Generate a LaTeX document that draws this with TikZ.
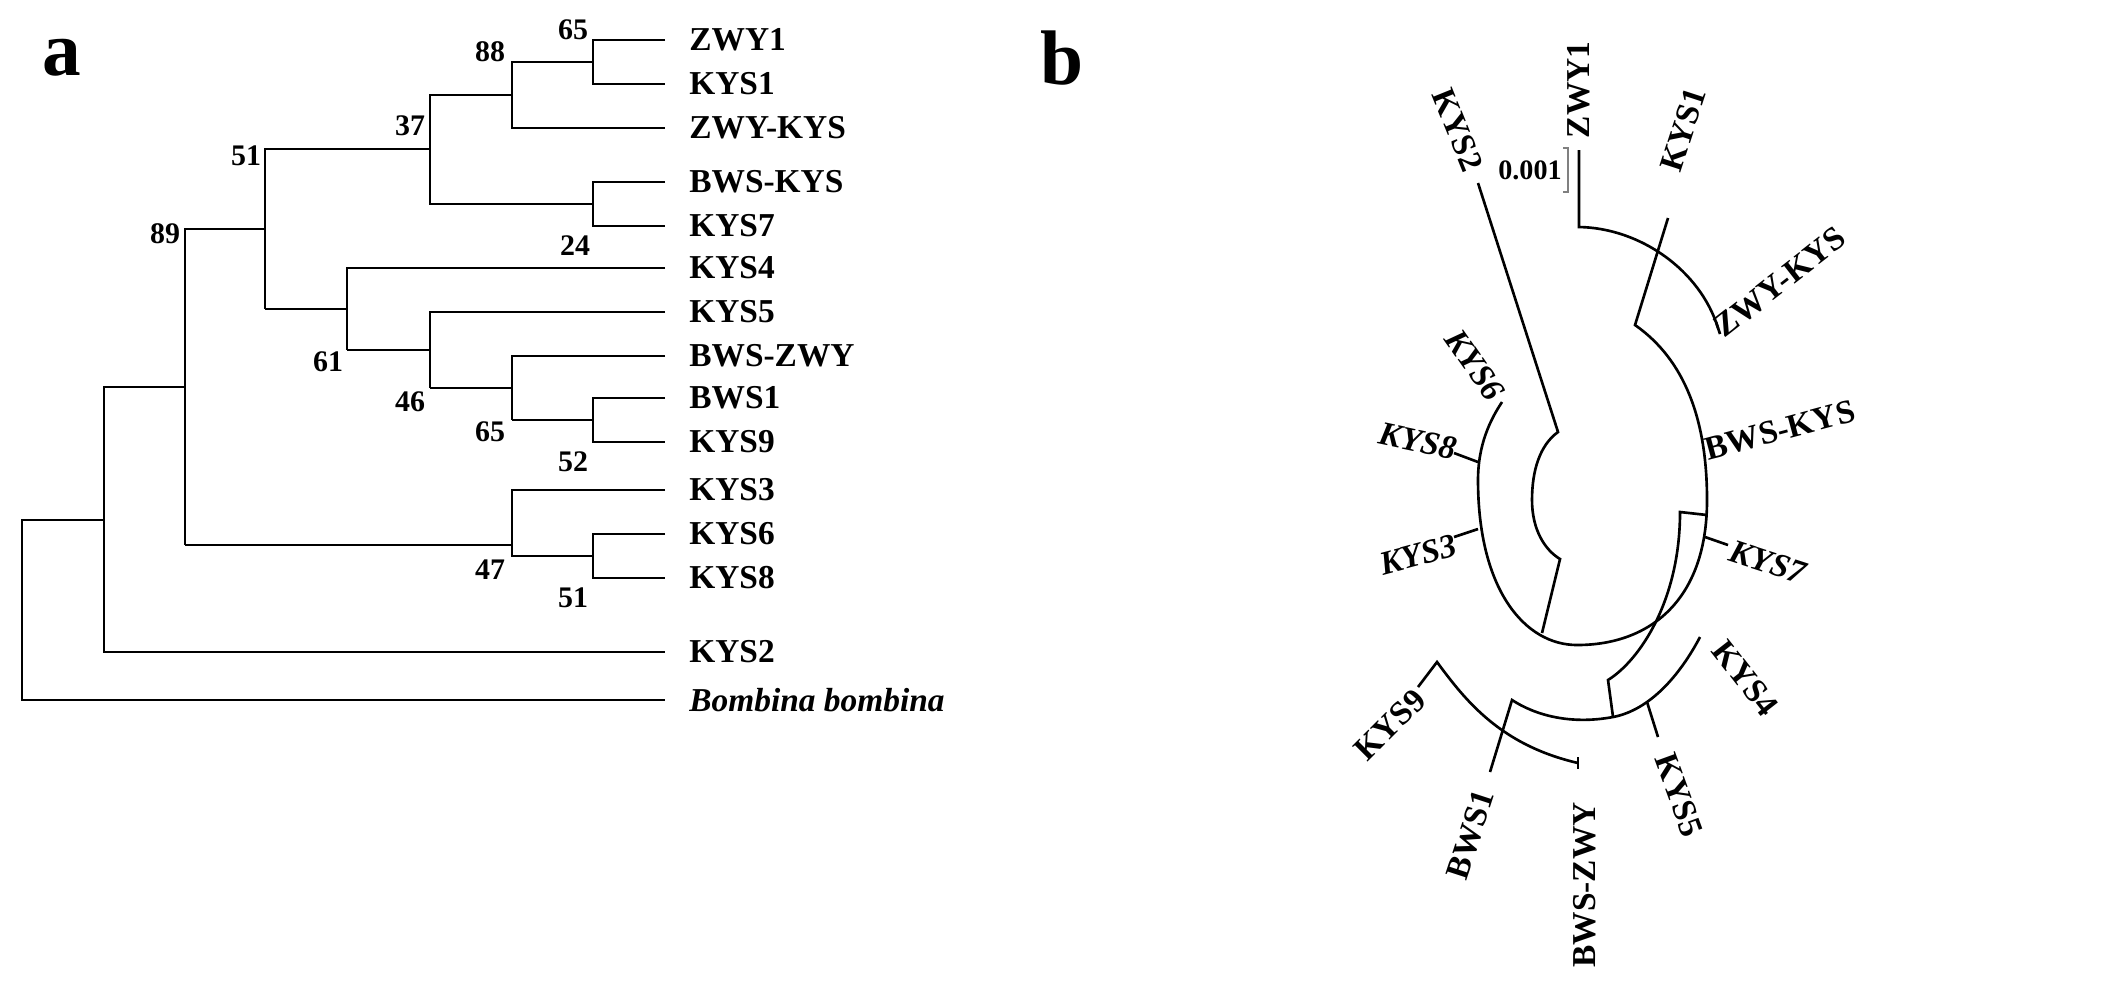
\documentclass[tikz,border=0pt]{standalone}
\usepackage{fontspec}
\setmainfont{Liberation Serif}
\begin{document}
\begin{tikzpicture}[x=0.01cm,y=-0.01cm,line width=0.75pt,
  lab/.style={font=\bfseries\fontsize{9.5}{9.5}\selectfont,anchor=west,inner sep=0},
  bs/.style={font=\bfseries\fontsize{8.5}{8.5}\selectfont,inner sep=0},
  rl/.style={font=\bfseries\fontsize{9.5}{9.5}\selectfont,inner sep=0},
  ri/.style={font=\bfseries\itshape\fontsize{9.5}{9.5}\selectfont,inner sep=0}]
\useasboundingbox (0,0) rectangle (2113,993);
\node[font=\bfseries\fontsize{22}{22}\selectfont] (A) at (62,58) {a};
\node[font=\bfseries\fontsize{22}{22}\selectfont] (B) at (1062,58) {b};
% tree a
\draw (665,40) -| (593,84) -- (665,84);
\draw (593,62) -| (512,128) -- (665,128);
\draw (665,182) -| (593,226) -- (665,226);
\draw (512,95) -| (430,204) -- (593,204);
\draw (430,149) -| (265,309);
\draw (665,268) -| (347,350);
\draw (665,312) -| (430,388);
\draw (665,356) -| (512,420);
\draw (665,398) -| (593,442) -- (665,442);
\draw (593,420) -- (512,420);
\draw (430,388) -- (512,388);
\draw (347,350) -- (430,350);
\draw (265,309) -- (347,309);
\draw (265,229) -| (185,545);
\draw (665,534) -| (593,578) -- (665,578);
\draw (665,490) -| (512,556) -- (593,556);
\draw (185,545) -- (512,545);
\draw (185,387) -| (104,652) -- (665,652);
\draw (104,520) -| (22,700) -- (665,700);
\foreach \n/\y in {ZWY1/40,KYS1/84,ZWY-KYS/128,BWS-KYS/182,KYS7/226,KYS4/268,KYS5/312,BWS-ZWY/356,BWS1/398,KYS9/442,KYS3/490,KYS6/534,KYS8/578,KYS2/652}
  \node[lab] (l\n) at (688,\y) {\n};
\node[lab,font=\bfseries\itshape\fontsize{9.5}{9.5}\selectfont] (lBB) at (688,700) {Bombina bombina};
\foreach \t/\x/\y/\k in {65/573/30/a,88/490/52/b,37/410/126/c,24/575/246/d,51/246/156/e,61/328/362/f,46/410/402/g,65/490/432/h,52/573/462/i,89/165/234/j,47/490/570/k,51/573/598/l}
  \node[bs] (n\k) at (\x,\y) {\t};
% tree b
\draw (1579,150) -- (1579,227) .. controls (1640,228) and (1700,270) .. (1718,328);
\draw (1716,322) -- (1720,334);
\draw (1668,218) -- (1635,325) .. controls (1685,360) and (1707,420) .. (1707,500) .. controls (1707,600) and (1650,645) .. (1577,645) .. controls (1525,645) and (1478,590) .. (1478,480) .. controls (1478,445) and (1490,420) .. (1502,402);
\draw (1454,453) -- (1478,462);
\draw (1454,537) -- (1478,529);
\draw (1478,183) -- (1558,432) .. controls (1540,445) and (1532,470) .. (1532,500) .. controls (1532,530) and (1545,550) .. (1560,559) -- (1542,633);
\draw (1707,515) -- (1680,512) .. controls (1680,600) and (1640,660) .. (1608,680) -- (1613,717);
\draw (1705,537) -- (1728,545);
\draw (1700,637) .. controls (1680,675) and (1650,710) .. (1613,717) .. controls (1570,725) and (1535,715) .. (1512,700) -- (1490,772);
\draw (1647,702) -- (1658,737);
\draw (1418,687) -- (1437,662) .. controls (1465,700) and (1500,745) .. (1578,763);
\draw (1578,757) -- (1578,769);
\draw[gray,line width=0.4pt] (1563,148) -- (1568,148) -- (1568,192) -- (1563,192);
\node[font=\bfseries\fontsize{8}{8}\selectfont,inner sep=0] (sc) at (1530,170) {0.001};
\node[rl,rotate=90] (bZWY1) at (1579,90) {ZWY1};
\node[rl,rotate=72] (bKYS1) at (1683,130) {KYS1};
\node[rl,rotate=38] (bZK) at (1780,282) {ZWY-KYS};
\node[rl,rotate=15] (bBK) at (1780,430) {BWS-KYS};
\node[ri,rotate=-18] (bK7) at (1768,562) {KYS7};
\node[rl,rotate=-52] (bK4) at (1745,678) {KYS4};
\node[rl,rotate=-70] (bK5) at (1679,795) {KYS5};
\node[rl,rotate=90] (bBZ) at (1585,885) {BWS-ZWY};
\node[rl,rotate=72] (bB1) at (1470,835) {BWS1};
\node[rl,rotate=45] (bK9) at (1390,725) {KYS9};
\node[ri,rotate=15] (bK3) at (1418,555) {KYS3};
\node[ri,rotate=-12] (bK8) at (1418,441) {KYS8};
\node[ri,rotate=-55] (bK6) at (1475,365) {KYS6};
\node[rl,rotate=-68] (bK2) at (1458,130) {KYS2};
\end{tikzpicture}
\end{document}
